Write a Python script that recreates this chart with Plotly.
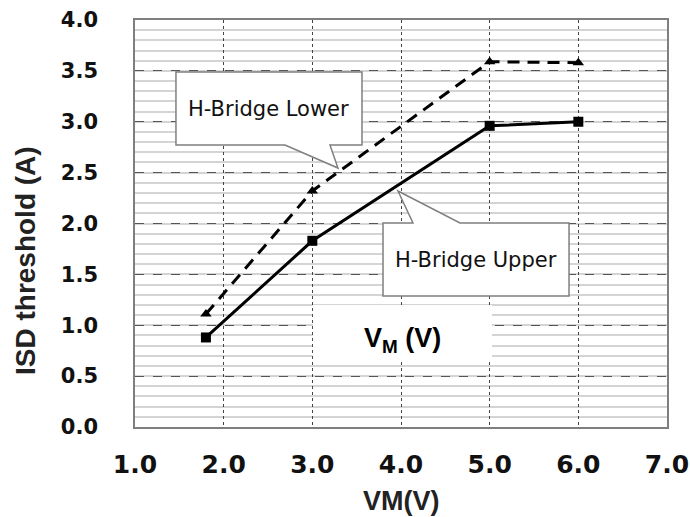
import plotly.graph_objects as go

# ---- data ----
vm = [1.8, 3.0, 5.0, 6.0]
upper = [0.88, 1.83, 2.96, 3.00]
lower = [1.11, 2.32, 3.59, 3.58]
x_ticks = [1.0, 2.0, 3.0, 4.0, 5.0, 6.0, 7.0]
y_ticks = [0.0, 0.5, 1.0, 1.5, 2.0, 2.5, 3.0, 3.5, 4.0]

fig = go.Figure()
fig.add_trace(go.Scatter(x=vm, y=lower, mode="lines+markers", name="H-Bridge Lower",
                         line=dict(color="black", width=3, dash="12px,8px"),
                         marker=dict(symbol="triangle-up", size=10, color="black")))
fig.add_trace(go.Scatter(x=vm, y=upper, mode="lines+markers", name="H-Bridge Upper",
                         line=dict(color="black", width=3),
                         marker=dict(symbol="square", size=10, color="black")))

# callout shapes (data coordinates)
callout_lower = "M 1.462,3.489 L 3.56,3.489 L 3.56,2.771 L 3.199,2.771 L 3.289,2.545 L 2.692,2.771 L 1.462,2.771 Z"
callout_upper = "M 3.797,2.005 L 4.135,2.005 L 3.966,2.319 L 4.665,2.005 L 5.895,2.005 L 5.895,1.287 L 3.797,1.287 Z"
fig.add_shape(type="path", path=callout_lower, xref="x", yref="y",
              line=dict(color="#7f7f7f", width=1.5), fillcolor="white", layer="above")
fig.add_shape(type="path", path=callout_upper, xref="x", yref="y",
              line=dict(color="#7f7f7f", width=1.5), fillcolor="white", layer="above")
fig.add_shape(type="rect", x0=3.007, x1=5.026, y0=0.658, y1=1.199, xref="x", yref="y",
              line=dict(width=0), fillcolor="white", layer="above")

fig.add_annotation(x=2.51, y=3.13, xref="x", yref="y", text="H-Bridge Lower", showarrow=False,
                   font=dict(family="DejaVu Sans", size=21, color="#111"))
fig.add_annotation(x=4.846, y=1.646, xref="x", yref="y", text="H-Bridge Upper", showarrow=False,
                   font=dict(family="DejaVu Sans", size=21, color="#111"))
fig.add_annotation(x=4.02, y=0.855, xref="x", yref="y", text="<b>V<sub>M</sub> (V)</b>", showarrow=False,
                   font=dict(family="Liberation Sans", size=27, color="black"))

# axis titles
fig.add_annotation(x=-0.207, y=0.41, xref="paper", yref="paper", text="<b>ISD threshold (A)</b>",
                   textangle=-90, showarrow=False, xanchor="center", yanchor="middle",
                   font=dict(family="Liberation Sans", size=28, color="#222"))
fig.add_annotation(x=0.5, y=-0.182, xref="paper", yref="paper", text="<b>VM(V)</b>",
                   showarrow=False, xanchor="center", yanchor="middle",
                   font=dict(family="Liberation Sans", size=27, color="#222"))

fig.update_xaxes(range=[1, 7], tickvals=x_ticks, ticktext=[f"{v:.1f}" for v in x_ticks],
                 tickfont=dict(family="DejaVu Sans", size=25, color="#111", weight="bold"),
                 ticklabelstandoff=14, automargin=False,
                 showgrid=True, gridcolor="#444", griddash="dot", gridwidth=1,
                 showline=True, linecolor="#7f7f7f", linewidth=1.5, mirror=True,
                 zeroline=False, ticks="")
fig.update_yaxes(range=[0, 4], tickvals=y_ticks, ticktext=[f"{v:.1f}" for v in y_ticks],
                 tickfont=dict(family="DejaVu Sans", size=21, color="#111", weight="bold"),
                 ticklabelstandoff=31, automargin=False,
                 showgrid=True, gridcolor="#555", griddash="dash", gridwidth=1,
                 minor=dict(dtick=0.1, showgrid=True, gridcolor="#d4d4d4", gridwidth=1.5,
                            griddash="solid"),
                 showline=True, linecolor="#7f7f7f", linewidth=1.5, mirror=True,
                 zeroline=False, ticks="")

fig.update_layout(width=690, height=517, margin=dict(l=135, r=23, t=20, b=90),
                  plot_bgcolor="white", paper_bgcolor="white", showlegend=False)

fig.write_html("out.html", config={"displayModeBar": False},
               post_script="document.body.style.margin='0';")
